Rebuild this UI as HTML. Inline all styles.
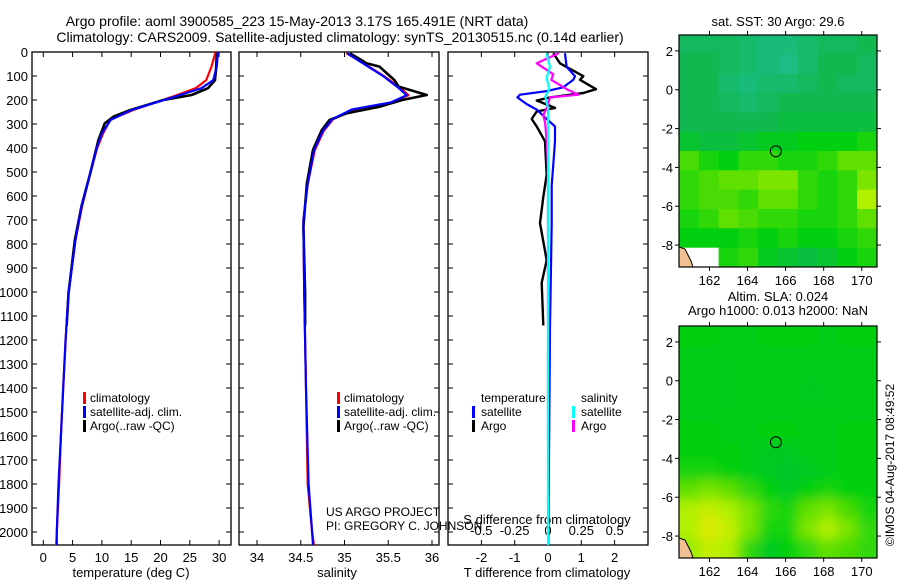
<!DOCTYPE html>
<html><head><meta charset="utf-8"><style>
html,body{margin:0;padding:0;background:#fff;}
svg{display:block;font-family:"Liberation Sans",sans-serif;}
</style></head><body>
<svg id="fig" width="900" height="580" viewBox="0 0 900 580" xmlns="http://www.w3.org/2000/svg">
<text x="297" y="26" font-size="14" text-anchor="middle">Argo profile: aoml 3900585_223 15-May-2013 3.17S 165.491E (NRT data)</text>
<text x="340" y="42" font-size="14" text-anchor="middle">Climatology: CARS2009. Satellite-adjusted climatology: synTS_20130515.nc (0.14d earlier)</text>
<g id="g1"></g>
<g id="g2"></g>
<g id="g3"></g>
<g id="m1"></g>
<g id="m2"></g>
<text x="778" y="26" font-size="13" text-anchor="middle">sat. SST: 30 Argo: 29.6</text>
<text x="778" y="301" font-size="13" text-anchor="middle">Altim. SLA: 0.024</text>
<text x="778" y="315" font-size="13" text-anchor="middle">Argo h1000: 0.013 h2000: NaN</text>
<text transform="translate(894,465) rotate(-90)" font-size="12" text-anchor="middle">©IMOS 04-Aug-2017 08:49:52</text>
<text x="326" y="516" font-size="12">US ARGO PROJECT</text>
<text x="326" y="530" font-size="12">PI: GREGORY C. JOHNSON</text>
</svg>
<script>
// ---- data ----
const depthTicks=[0,100,200,300,400,500,600,700,800,900,1000,1100,1200,1300,1400,1500,1600,1700,1800,1900,2000];
const tempTicks=[0,5,10,15,20,25,30];
const salTicks=[34,34.5,35,35.5,36];
const tdiffTicks=[-2,-1,0,1,2];
const sdiffTicks=[-0.5,-0.25,0,0.25,0.5];
const sdiffLabels=["-0.5","-0.25","0","0.25","0.5"];
const tArgoDepth=[5,61,117,151,179,200,242,269,297,367,506,644,783,1006,1140];
const tArgo=[29.6,29.5,29.3,28.1,25.3,20.5,14.8,12.0,10.5,9.4,8.0,6.5,5.4,4.3,4.0];
const tClimDepth=[0,61,117,151,186,242,283,339,400,506,644,783,1006,1200,1400,1600,1800,2000,2054];
const tClim=[29.4,28.7,27.8,26.0,22.1,15.3,11.4,10.2,9.2,8.0,6.6,5.5,4.3,3.8,3.4,3.0,2.7,2.3,2.2];
const tSat=[29.8,29.6,29.0,27.0,22.5,15.0,11.5,10.0,9.1,8.0,6.5,5.5,4.3,3.8,3.4,3.0,2.6,2.3,2.3];
const sArgoDepth=[5,33,47,61,117,144,179,200,228,256,283,325,408,547,728,1006,1140];
const sArgo=[35.06,35.19,35.25,35.40,35.57,35.62,35.94,35.66,35.40,35.02,34.83,34.74,34.64,34.57,34.53,34.55,34.55];
const sClimDepth=[5,47,100,150,180,210,240,280,330,410,550,700,1000,1400,1800,2000,2054];
const sClim=[35.02,35.22,35.45,35.64,35.73,35.55,35.10,34.87,34.76,34.66,34.58,34.53,34.54,34.56,34.58,34.63,34.65];
const sSat=[35.03,35.21,35.44,35.62,35.71,35.53,35.08,34.86,34.75,34.65,34.58,34.53,34.54,34.56,34.59,34.63,34.64];
const dTSatDepth=[5,62,101,116,147,163,178,189,217,240,279,310,372,557,713,1147,2054];
const dTSat=[0.51,0.56,0.81,0.76,0.46,-0.04,-0.84,-0.92,-0.64,-0.34,-0.04,0.21,0.21,0.11,0.11,0.06,0.01];
const dTArgoDepth=[5,47,101,116,155,171,189,202,233,248,279,310,372,511,604,713,868,961,1139];
const dTArgo=[0.16,0.36,1.06,0.96,1.44,1.06,0.06,-0.34,0.21,-0.34,-0.49,-0.34,-0.09,-0.04,-0.14,-0.24,-0.04,-0.19,-0.14];
const dSArgoDepth=[5,47,93,116,155,178,189,233,263,294,372,480,557,1140];
const dSArgo=[0.08,-0.085,0.04,0.025,0.14,0.23,0.015,-0.01,-0.035,-0.022,-0.01,0,0,0];
const dSSatDepth=[5,62,108,155,186,233,294,2054];
const dSSat=[-0.012,0.015,-0.01,0.01,-0.02,0,0,0];
const lonTicks=[162,164,166,168,170];
const latTicks=[2,0,-2,-4,-6,-8];
const sstGrid=[
[0.25,0.25,0.25,0.2,0.15,0.15,0.2,0.25,0.25,0.3],
[0.3,0.3,0.25,0.2,0.15,0.1,0.2,0.3,0.3,0.25],
[0.3,0.3,0.2,0.15,0.2,0.2,0.25,0.3,0.25,0.25],
[0.3,0.3,0.25,0.2,0.25,0.3,0.3,0.3,0.3,0.3],
[0.3,0.3,0.3,0.3,0.3,0.35,0.35,0.35,0.35,0.35],
[0.4,0.35,0.35,0.4,0.45,0.45,0.5,0.5,0.5,0.55],
[0.65,0.55,0.5,0.6,0.6,0.55,0.55,0.6,0.7,0.7],
[0.6,0.65,0.7,0.7,0.75,0.75,0.6,0.55,0.6,0.75],
[0.6,0.65,0.65,0.6,0.7,0.7,0.6,0.55,0.6,0.85],
[0.55,0.6,0.7,0.65,0.6,0.6,0.55,0.55,0.6,0.7],
[0.5,0.5,0.5,0.55,0.5,0.55,0.5,0.5,0.55,0.6],
[-1,-1,0.55,0.6,0.45,0.4,0.35,0.4,0.5,0.55]];
const slaGrid=[
[0.5,0.5,0.48,0.48,0.5,0.5,0.5,0.48,0.5,0.5],
[0.48,0.48,0.48,0.48,0.48,0.48,0.48,0.48,0.48,0.48],
[0.48,0.48,0.47,0.48,0.48,0.48,0.47,0.47,0.48,0.48],
[0.48,0.48,0.47,0.48,0.48,0.48,0.46,0.47,0.48,0.48],
[0.48,0.48,0.48,0.48,0.48,0.48,0.48,0.48,0.48,0.48],
[0.5,0.5,0.48,0.48,0.5,0.5,0.48,0.48,0.5,0.5],
[0.5,0.5,0.5,0.48,0.45,0.45,0.48,0.48,0.5,0.5],
[0.55,0.55,0.5,0.48,0.45,0.42,0.45,0.48,0.5,0.5],
[0.7,0.75,0.7,0.6,0.5,0.45,0.5,0.55,0.5,0.5],
[0.85,0.9,0.85,0.75,0.6,0.55,0.7,0.75,0.65,0.55],
[0.85,0.95,0.9,0.75,0.55,0.55,0.75,0.85,0.75,0.6],
[0.8,0.9,0.85,0.6,0.45,0.5,0.6,0.7,0.65,0.6]];
const argoLon=165.49, argoLat=-3.17;

// ---- helpers ----
const NS="http://www.w3.org/2000/svg";
function mk(parent,tag,attrs){const e=document.createElementNS(NS,tag);for(const k in attrs)e.setAttribute(k,attrs[k]);parent.appendChild(e);return e;}
const Y0=52, KY=0.24, YB=545;
const yD=d=>Y0+KY*d;
function frame(g,x0,x1,name){
  const r=mk(g,'rect',{x:x0,y:Y0,width:x1-x0,height:YB-Y0,fill:'none',stroke:'#000','stroke-width':1.3});
  
  
}
function line(g,xs,ds,sx,col,w,name){
  const pts=xs.map((v,i)=>sx(v).toFixed(1)+','+yD(ds[i]).toFixed(1)).join(' ');
  const p=mk(g,'polyline',{points:pts,fill:'none',stroke:col,'stroke-width':w,'stroke-linejoin':'round'});
  
  
}
function txt(g,x,y,s,size,anchor,name){
  const t=mk(g,'text',{x:x,y:y,'font-size':size,'text-anchor':anchor||'start'});t.textContent=s;
  
  
  return t;
}
function depthTicksDraw(g,x0,x1,labels){
  depthTicks.forEach(d=>{
    mk(g,'line',{x1:x0,x2:x0+5,y1:yD(d),y2:yD(d),stroke:'#000'});
    mk(g,'line',{x1:x1-5,x2:x1,y1:yD(d),y2:yD(d),stroke:'#000'});
    if(labels) txt(g,28,yD(d)+5,String(d),13,'end','depth-tick-label');
  });
}
function xTicks(g,ticks,sx,labels,yLab){
  ticks.forEach((v,i)=>{
    const x=sx(v);
    mk(g,'line',{x1:x,x2:x,y1:YB,y2:YB-5,stroke:'#000'});
    mk(g,'line',{x1:x,x2:x,y1:Y0,y2:Y0+5,stroke:'#000'});
    txt(g,x,yLab,labels?labels[i]:String(v),13,'middle','x-tick-label');
  });
}
function legendMark(g,x,y,col){mk(g,'rect',{x:x,y:y-10,width:3,height:12,fill:col});}

// ---- panel 1: temperature ----
const g1=document.getElementById('g1');
const sxT=v=>43.3+5.86*v;
frame(g1,32,231,'temperature');
depthTicksDraw(g1,32,231,true);
xTicks(g1,tempTicks,sxT,null,562);
txt(g1,131,577,'temperature (deg C)',13,'middle','temperature-axis-title');
line(g1,tClim,tClimDepth,sxT,'#f00',2.2,'temperature-climatology-line');
line(g1,tArgo,tArgoDepth,sxT,'#000',2.6,'temperature-argo-line');
line(g1,tSat,tClimDepth,sxT,'#00f',2.2,'temperature-satellite-line');
[['climatology','#f00'],['satellite-adj. clim.','#00f'],['Argo(..raw -QC)','#000']].forEach((l,i)=>{
  legendMark(g1,83,402+i*14,l[1]);txt(g1,90,402+i*14,l[0],12,'start','legend-entry');
});

// ---- panel 2: salinity ----
const g2=document.getElementById('g2');
const sxS=v=>257+87.5*(v-34);
frame(g2,239,439,'salinity');
depthTicksDraw(g2,239,439,false);
xTicks(g2,salTicks,sxS,null,562);
txt(g2,337,577,'salinity',13,'middle','salinity-axis-title');
line(g2,sClim,sClimDepth,sxS,'#f00',2.2,'salinity-climatology-line');
line(g2,sArgo,sArgoDepth,sxS,'#000',2.6,'salinity-argo-line');
line(g2,sSat,sClimDepth,sxS,'#00f',2.2,'salinity-satellite-line');
[['climatology','#f00'],['satellite-adj. clim.','#00f'],['Argo(..raw -QC)','#000']].forEach((l,i)=>{
  legendMark(g2,337,402+i*14,l[1]);txt(g2,344,402+i*14,l[0],12,'start','legend-entry');
});

// ---- panel 3: differences ----
const g3=document.getElementById('g3');
const sxD=v=>548+33.3*v;
const sxDS=v=>548+133.3*v;
frame(g3,448,648,'difference');
depthTicksDraw(g3,448,648,false);
tdiffTicks.forEach(v=>{const x=sxD(v);mk(g3,'line',{x1:x,x2:x,y1:YB,y2:YB-5,stroke:'#000'});txt(g3,x,562,String(v),13,'middle','t-diff-tick-label');});
sdiffTicks.forEach((v,i)=>{const x=sxDS(v);mk(g3,'line',{x1:x,x2:x,y1:Y0,y2:Y0+5,stroke:'#000'});txt(g3,x,535,sdiffLabels[i],13,'middle','s-diff-tick-label');});
txt(g3,547,577,'T difference from climatology',13,'middle','t-diff-axis-title');
txt(g3,547,524,'S difference from climatology',13,'middle','s-diff-axis-title');
line(g3,dTArgo,dTArgoDepth,sxD,'#000',2.4,'t-diff-argo-line');
line(g3,dTSat,dTSatDepth,sxD,'#00f',2.2,'t-diff-satellite-line');
line(g3,dSArgo,dSArgoDepth,sxDS,'#f0f',2.2,'s-diff-argo-line');
line(g3,dSSat,dSSatDepth,sxDS,'#0ff',2.2,'s-diff-satellite-line');
txt(g3,481,402,'temperature',12,'start','legend-heading');
txt(g3,581,402,'salinity',12,'start','legend-heading');
legendMark(g3,472,416,'#00f');txt(g3,481,416,'satellite',12,'start','legend-entry');
legendMark(g3,472,430,'#000');txt(g3,481,430,'Argo',12,'start','legend-entry');
legendMark(g3,572,416,'#0ff');txt(g3,581,416,'satellite',12,'start','legend-entry');
legendMark(g3,572,430,'#f0f');txt(g3,581,430,'Argo',12,'start','legend-entry');

// ---- maps ----
const stops=[[0,[32,192,160]],[0.3,[16,184,80]],[0.5,[0,208,16]],[0.7,[96,224,0]],[0.85,[176,240,0]],[1,[240,232,0]]];
function cmap(t){
  if(t<0) return '#fff';
  for(let i=1;i<stops.length;i++){ if(t<=stops[i][0]){const a=stops[i-1],b=stops[i];const f=(t-a[0])/(b[0]-a[0]);
    const c=a[1].map((v,k)=>Math.round(v+(b[1][k]-v)*f));return 'rgb('+c.join(',')+')';}}
  return 'rgb(240,232,0)';
}
function drawMap(id,top,grid,blur){
  const g=document.getElementById(id);
  const L=679,R=877,B=top+232,lon0=160.4,lon1=170.8,lat0=2.82,lat1=-9.13;
  const sx=v=>L+(v-lon0)*(R-L)/(lon1-lon0);
  const sy=v=>top+(lat0-v)*(B-top)/(lat0-lat1);
  const clipId='clip'+id;
  const cp=mk(g,'clipPath',{id:clipId});mk(cp,'rect',{x:L,y:top,width:R-L,height:B-top});
  let filt=null;
  if(blur){const f=mk(g,'filter',{id:'bl'+id,x:'-10%',y:'-10%',width:'120%',height:'120%'});mk(f,'feGaussianBlur',{stdDeviation:6});filt='url(#bl'+id+')';}
  const outer=mk(g,'g',{'clip-path':'url(#'+clipId+')'});
  const cells=mk(outer,'g',filt?{filter:filt}:{});
  const rows=grid.length,cols=grid[0].length;
  const cw=(R-L)/cols,ch=(B-top)/rows;
  grid.forEach((row,r)=>row.forEach((v,c)=>{
    const e=mk(cells,'rect',{x:(L+c*cw-(blur?cw:0)*(c==0)).toFixed(1),y:(top+r*ch-(blur?ch:0)*(r==0)).toFixed(1),width:(cw+0.6+(blur?cw:0)*(c==0||c==cols-1)).toFixed(1),height:(ch+0.6+(blur?ch:0)*(r==0||r==rows-1)).toFixed(1),fill:cmap(v)});
    
    
  }));
  const land=mk(outer,'path',{d:`M${L} ${B-20} L${L+6} ${B-18} L${L+12} ${B-6} L${L+14} ${B} L${L} ${B} Z`,fill:'#f0c090',stroke:'#000','stroke-width':1});
  
  
  mk(g,'rect',{x:L,y:top,width:R-L,height:B-top,fill:'none',stroke:'#000','stroke-width':1.2});
  const c=mk(g,'circle',{cx:sx(argoLon),cy:sy(argoLat),r:5.5,fill:'none',stroke:'#000','stroke-width':1});
  
  
  lonTicks.forEach(v=>{const x=sx(v);mk(g,'line',{x1:x,x2:x,y1:top,y2:top-4,stroke:'#000'});mk(g,'line',{x1:x,x2:x,y1:B,y2:B+4,stroke:'#000'});txt(g,x,B+18,String(v),13,'middle','lon-tick-label');});
  latTicks.forEach(v=>{const y=sy(v);mk(g,'line',{x1:R,x2:R+4,y1:y,y2:y,stroke:'#000'});mk(g,'line',{x1:L,x2:L-4,y1:y,y2:y,stroke:'#000'});txt(g,673,y+5,String(v),13,'end','lat-tick-label');});
}
drawMap('m1',35,sstGrid,false);
drawMap('m2',326,slaGrid,true);
</script>
</body></html>
